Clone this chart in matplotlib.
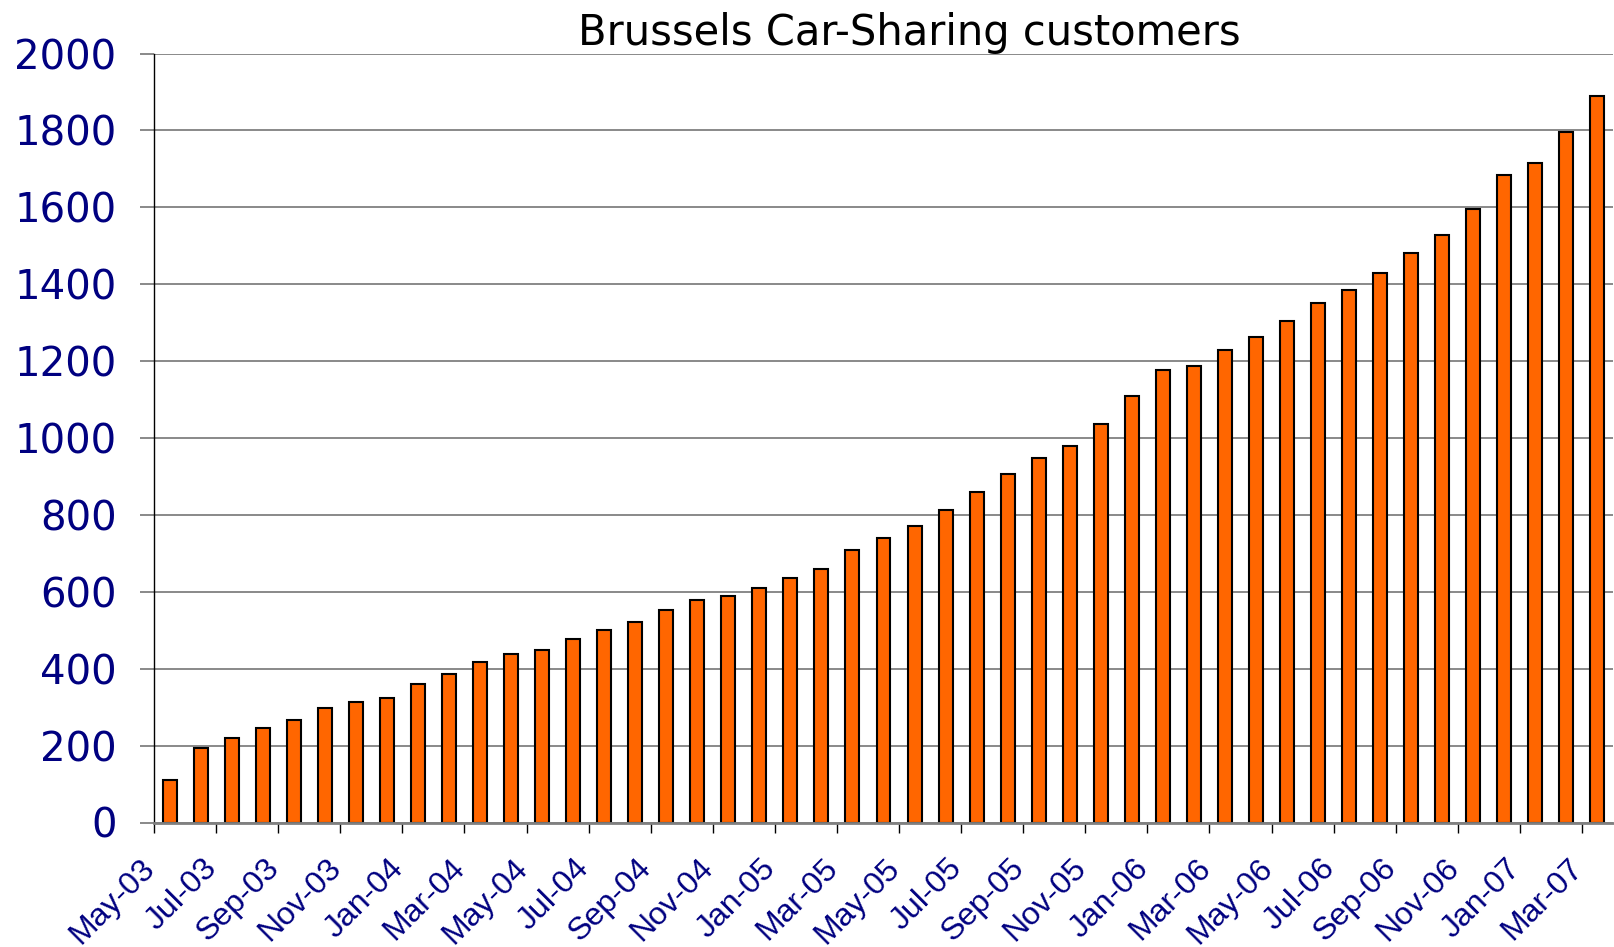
import matplotlib
matplotlib.use("Agg")
import matplotlib.pyplot as plt
import matplotlib.transforms as mtransforms
import numpy as np

# monthly customers, May-03 .. Mar-07 (one bar per month)
months = [
    "May-03", "Jun-03", "Jul-03", "Aug-03", "Sep-03", "Oct-03", "Nov-03", "Dec-03",
    "Jan-04", "Feb-04", "Mar-04", "Apr-04", "May-04", "Jun-04", "Jul-04", "Aug-04",
    "Sep-04", "Oct-04", "Nov-04", "Dec-04", "Jan-05", "Feb-05", "Mar-05", "Apr-05",
    "May-05", "Jun-05", "Jul-05", "Aug-05", "Sep-05", "Oct-05", "Nov-05", "Dec-05",
    "Jan-06", "Feb-06", "Mar-06", "Apr-06", "May-06", "Jun-06", "Jul-06", "Aug-06",
    "Sep-06", "Oct-06", "Nov-06", "Dec-06", "Jan-07", "Feb-07", "Mar-07",
]
customers = [
    110, 193, 220, 245, 267, 298, 313, 323, 360, 385, 417, 437, 448, 478, 500, 521,
    552, 578, 589, 610, 635, 660, 708, 740, 770, 812, 860, 907, 948, 980, 1037, 1110,
    1178, 1188, 1230, 1262, 1303, 1350, 1385, 1428, 1480, 1527, 1595, 1683, 1715, 1797,
    1890,
]
yticks = [0, 200, 400, 600, 800, 1000, 1200, 1400, 1600, 1800, 2000]

navy = "#000080"
grid_grey = "#808080"

fig = plt.figure(figsize=(16.14, 9.47), dpi=100)
fig.patch.set_facecolor("white")
ax = fig.add_axes([154 / 1614, 1 - 822.5 / 947, 1459 / 1614, 769 / 947])

x = np.arange(len(customers)) + 0.5
ax.bar(x, customers, width=0.45, color="#FF6600", edgecolor="black",
       linewidth=1.5, zorder=3)

ax.set_xlim(0, len(customers))
ax.set_ylim(0, 2000)

# y axis: gridlines that run out past the spine as tick marks
ax.set_yticks(yticks)
ax.yaxis.grid(True, color=grid_grey, linewidth=1.3, zorder=0)
ax.tick_params(axis="y", length=10, width=1.3, color=grid_grey, pad=17,
               labelsize=29, labelcolor=navy)
for lab in ax.get_yticklabels():
    lab.set_family("DejaVu Sans")

# x axis: a tick and label every second month, between bars
ax.tick_params(axis="x", length=7, width=1, color="black", pad=15,
               labelsize=23, labelcolor=navy)
tick_pos = np.arange(0, len(customers), 2)
ax.set_xticks(tick_pos)
ax.set_xticklabels([months[i] for i in tick_pos], rotation=45, ha="right",
                   fontsize=23, color=navy, family="Liberation Sans")
shift = mtransforms.ScaledTranslation(7 / 100, 0, fig.dpi_scale_trans)
for lab in ax.get_xticklabels():
    lab.set_transform(lab.get_transform() + shift)

for side in ("top", "right"):
    ax.spines[side].set_visible(False)
ax.spines["left"].set_color("black")
ax.spines["left"].set_linewidth(1.0)
ax.spines["bottom"].set_color(grid_grey)
ax.spines["bottom"].set_linewidth(2.0)
ax.spines["bottom"].set_zorder(4)
ax.set_axisbelow(True)

fig.text(909 / 1614, 1 - 33 / 947, "Brussels Car-Sharing customers",
         ha="center", va="center", fontsize=30, color="black",
         family="DejaVu Sans")

fig.savefig("out.png", dpi=100, facecolor="white")
